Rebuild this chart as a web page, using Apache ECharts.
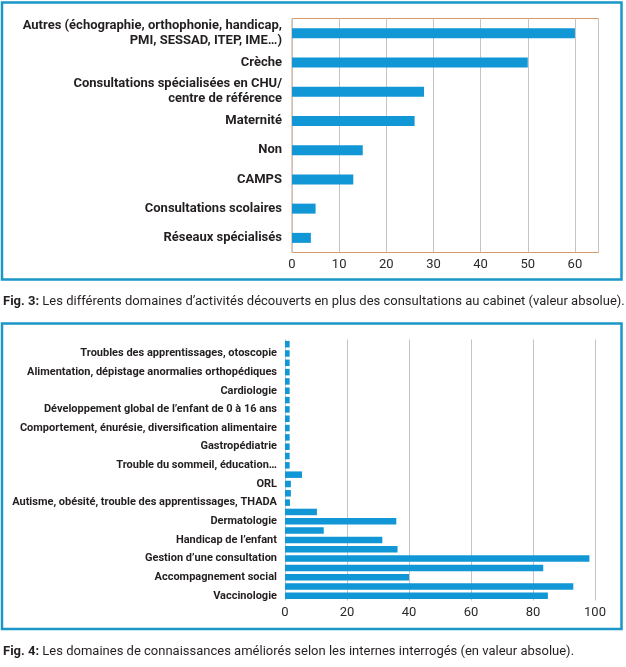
<!DOCTYPE html>
<html>
<head>
<meta charset="utf-8">
<script src="https://cdn.jsdelivr.net/npm/echarts@6/dist/echarts.min.js"></script>
<style>
html,body{margin:0;padding:0;background:#fff;}
#c{width:626px;height:667px;}
</style>
</head>
<body>
<div id="c"></div>
<script>
// Fig. 3 data (top to bottom)
const fig3Categories = [
  'Autres (échographie, orthophonie, handicap,\nPMI, SESSAD, ITEP, IME…)',
  'Crèche',
  'Consultations spécialisées en CHU/\ncentre de référence',
  'Maternité',
  'Non',
  'CAMPS',
  'Consultations scolaires',
  'Réseaux spécialisés'
];
const fig3Values = [60, 50, 28, 26, 15, 13, 5, 4];
const fig3Ticks = [0, 10, 20, 30, 40, 50, 60];

// Fig. 4 data (top to bottom); unlabeled bars have empty labels
const fig4Labels = [
  '', 'Troubles des apprentissages, otoscopie',
  '', 'Alimentation, dépistage anormalies orthopédiques',
  '', 'Cardiologie',
  '', 'Développement global de l’enfant de 0 à 16 ans',
  '', 'Comportement, énurésie, diversification alimentaire',
  '', 'Gastropédiatrie',
  '', 'Trouble du sommeil, éducation…',
  '', 'ORL',
  '', 'Autisme, obésité, trouble des apprentissages, THADA',
  '', 'Dermatologie',
  '', 'Handicap de l’enfant',
  '', 'Gestion d’une consultation',
  '', 'Accompagnement social',
  '', 'Vaccinologie'
];
const fig4Values = [
  1.5, 1.5, 1.5, 1.5, 1.5, 1.5, 1.5, 1.5, 1.5, 1.5, 1.5, 1.5, 1.5, 1.5,
  5.5, 1.9, 1.9, 1.6,
  10.3, 35.9, 12.5, 31.4, 36.3, 98.2, 83.3, 40, 93, 84.8
];
const fig4Ticks = [0, 20, 40, 60, 80, 100];

const fig3Caption = ['Fig. 3:', ' Les différents domaines d’activités découverts en plus des consultations au cabinet (valeur absolue).'];
const fig4Caption = ['Fig. 4:', ' Les domaines de connaissances améliorés selon les internes interrogés (en valeur absolue).'];

const BLUE = '#1a96c8';
const BAR = '#1196d6';
const ORANGE = '#d49a68';
const FONT = 'Roboto';

const chart = echarts.init(document.getElementById('c'), null, {renderer: 'canvas'});
chart.setOption({
  backgroundColor: '#fff',
  animation: false,
  textStyle: {fontFamily: FONT},
  grid: [
    {left: 292, top: 18.5, width: 306.5, height: 234, show: true, borderColor: ORANGE, borderWidth: 1, backgroundColor: 'transparent', containLabel: false},
    {left: 285, top: 339.5, width: 310, height: 261, containLabel: false}
  ],
  xAxis: [
    {
      gridIndex: 0, type: 'value', min: fig3Ticks[0], max: 65, interval: fig3Ticks[1] - fig3Ticks[0],
      axisLine: {show: false}, axisTick: {show: false},
      splitLine: {show: true, lineStyle: {color: '#c4c4c4', width: 1}},
      axisLabel: {showMaxLabel: false, color: '#2a2a2a', fontSize: 13, margin: 6, fontFamily: FONT}
    },
    {
      gridIndex: 1, type: 'value', min: fig4Ticks[0], max: fig4Ticks[fig4Ticks.length - 1], interval: fig4Ticks[1] - fig4Ticks[0],
      axisLine: {show: false}, axisTick: {show: false},
      splitLine: {show: true, lineStyle: {color: '#c4c4c4', width: 1}},
      axisLabel: {color: '#2a2a2a', fontSize: 13, margin: 6, fontFamily: FONT}
    }
  ],
  yAxis: [
    {
      gridIndex: 0, type: 'category', inverse: true, data: fig3Categories,
      axisLine: {show: false}, axisTick: {show: false},
      axisLabel: {color: '#231f20', fontSize: 13, fontWeight: 'bold', margin: 10, lineHeight: 15, align: 'right', fontFamily: FONT}
    },
    {
      gridIndex: 1, type: 'category', inverse: true, data: fig4Labels,
      axisLine: {show: false}, axisTick: {show: false},
      axisLabel: {interval: 0, color: '#231f20', fontSize: 11, fontWeight: 'bold', margin: 8, align: 'right', fontFamily: FONT}
    }
  ],
  series: [
    {type: 'bar', xAxisIndex: 0, yAxisIndex: 0, data: fig3Values, barWidth: 10, itemStyle: {color: BAR}, silent: true},
    {type: 'bar', xAxisIndex: 1, yAxisIndex: 1, data: fig4Values, barWidth: 6.5, itemStyle: {color: BAR}, silent: true}
  ],
  graphic: [
    {type: 'rect', shape: {x: 2, y: 2.5, width: 619.5, height: 277}, style: {fill: 'none', stroke: BLUE, lineWidth: 2.5}, silent: true, z: 10},
    {type: 'rect', shape: {x: 2, y: 323.5, width: 619.5, height: 305.5}, style: {fill: 'none', stroke: BLUE, lineWidth: 2.5}, silent: true, z: 10},
    {type: 'text', left: 3, top: 295.5, silent: true,
      style: {text: '{b|' + fig3Caption[0] + '}{n|' + fig3Caption[1] + '}',
        rich: {b: {fontWeight: 'bold', fontSize: 13, fill: '#231f20', fontFamily: FONT}, n: {fontSize: 13, fill: '#231f20', fontFamily: FONT}}}},
    {type: 'text', left: 3, top: 645.5, silent: true,
      style: {text: '{b|' + fig4Caption[0] + '}{n|' + fig4Caption[1] + '}',
        rich: {b: {fontWeight: 'bold', fontSize: 13, fill: '#231f20', fontFamily: FONT}, n: {fontSize: 13, fill: '#231f20', fontFamily: FONT}}}}
  ]
});
</script>
</body>
</html>
